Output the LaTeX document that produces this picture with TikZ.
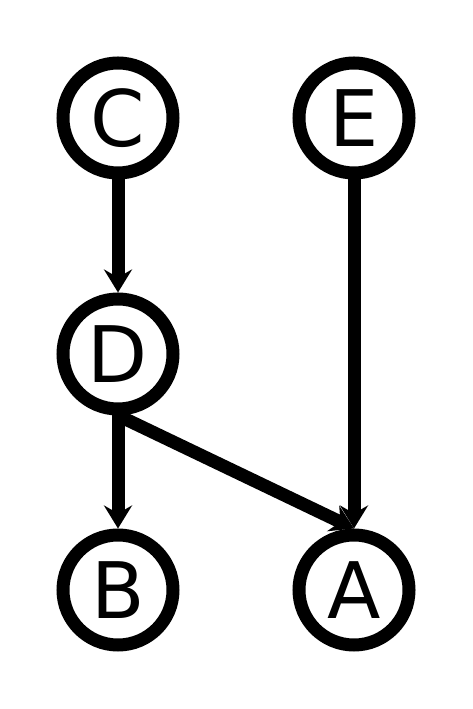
\documentclass[tikz,border=0pt]{standalone}
\usepackage{fontspec}
\setmainfont{DejaVu Sans}
\usetikzlibrary{arrows.meta}
\tikzset{
  vtx/.style={circle,draw,line width=13pt,minimum size=110pt,inner sep=0pt,
    font=\fontsize{78}{90}\selectfont},
  edg/.style={line width=13pt,-{Stealth[length=23pt,width=28pt,inset=8pt]}}
}
\begin{document}
\begin{tikzpicture}[x=1pt,y=1pt]
  \useasboundingbox (0,0) rectangle (472,709);
  \node[vtx] (C) at (118,591) {C};
  \node[vtx] (E) at (354,591) {E};
  \node[vtx] (D) at (118,355) {D};
  \node[vtx] (B) at (118,119) {B};
  \node[vtx] (A) at (354,119) {A};
  \draw[edg] (C.south) -- (D.north);
  \draw[edg] (E.south) -- (A.north);
  \draw[edg] (D.south) -- (B.north);
  \draw[edg] (D.south) -- (A.north);
\end{tikzpicture}
\end{document}
